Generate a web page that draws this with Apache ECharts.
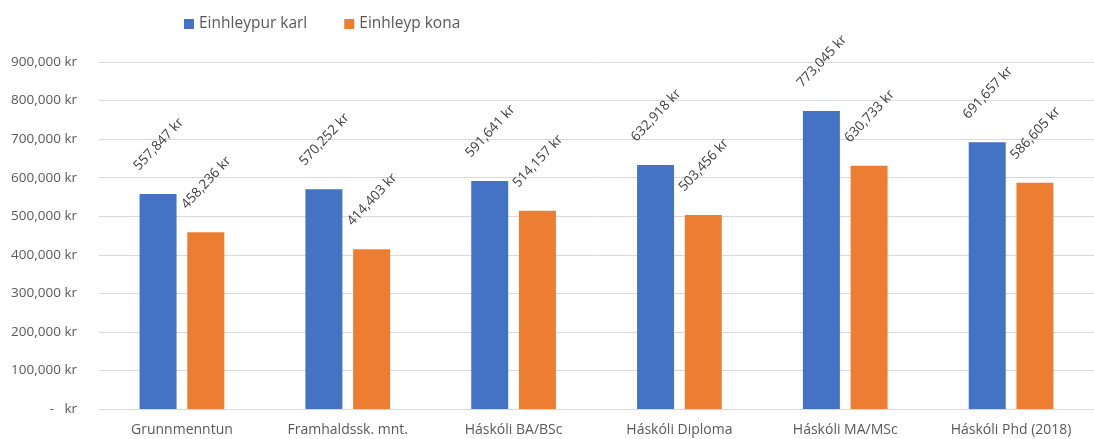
<!DOCTYPE html>
<html><head><meta charset="utf-8">
<script src="https://cdn.jsdelivr.net/npm/echarts@6/dist/echarts.min.js"></script>
<style>html,body{margin:0;padding:0;background:#fff}#c{width:1094px;height:439px}</style>
</head><body><div id="c"></div>
<script>
var categories = ['Grunnmenntun', 'Framhaldssk. mnt.', 'Háskóli BA/BSc', 'Háskóli Diploma', 'Háskóli MA/MSc', 'Háskóli Phd (2018)'];
var seriesNames = ['Einhleypur karl', 'Einhleyp kona'];
var men = [557847, 570252, 591641, 632918, 773045, 691657];
var women = [458236, 414403, 514157, 503456, 630733, 586605];
var yTicks = [0, 100000, 200000, 300000, 400000, 500000, 600000, 700000, 800000, 900000];

function fmt(v) {
  if (v === 0) return '-   kr';
  return v.toString().replace(/\B(?=(\d{3})+(?!\d))/g, ',') + ' kr';
}
var font = 'Open Sans';
var chart = echarts.init(document.getElementById('c'));
var lbl = {
  show: true, position: 'top', rotate: 47, align: 'center', verticalAlign: 'middle',
  offset: [33, -30], color: '#404040', fontSize: 13.5, fontFamily: font,
  formatter: function (p) { return fmt(p.value); }
};
chart.setOption({
  animation: false,
  textStyle: { fontFamily: font },
  legend: {
    top: 11, left: 179, itemWidth: 10, itemHeight: 10, itemGap: 37,
    icon: 'rect', textStyle: { color: '#595959', fontSize: 15.5, fontFamily: font },
    data: seriesNames
  },
  grid: { left: 99, right: -4, top: 62, bottom: 30, containLabel: false },
  xAxis: {
    type: 'category', data: categories,
    axisLine: { lineStyle: { color: '#d9d9d9' } }, axisTick: { show: false },
    axisLabel: { color: '#595959', fontSize: 14, fontFamily: font, margin: 14 }
  },
  yAxis: {
    type: 'value', min: yTicks[0], max: yTicks[yTicks.length - 1], interval: yTicks[1] - yTicks[0],
    axisLine: { show: false }, axisTick: { show: false },
    splitLine: { lineStyle: { color: '#d9d9d9' } },
    axisLabel: { color: '#595959', fontSize: 13.5, fontFamily: font, margin: 22, formatter: fmt }
  },
  series: [
    { name: seriesNames[0], type: 'bar', data: men, barWidth: '22.3%', barGap: '29%',
      itemStyle: { color: '#4472C4' }, label: lbl },
    { name: seriesNames[1], type: 'bar', data: women, barWidth: '22.3%',
      itemStyle: { color: '#ED7D31' }, label: lbl }
  ]
});
</script></body></html>
